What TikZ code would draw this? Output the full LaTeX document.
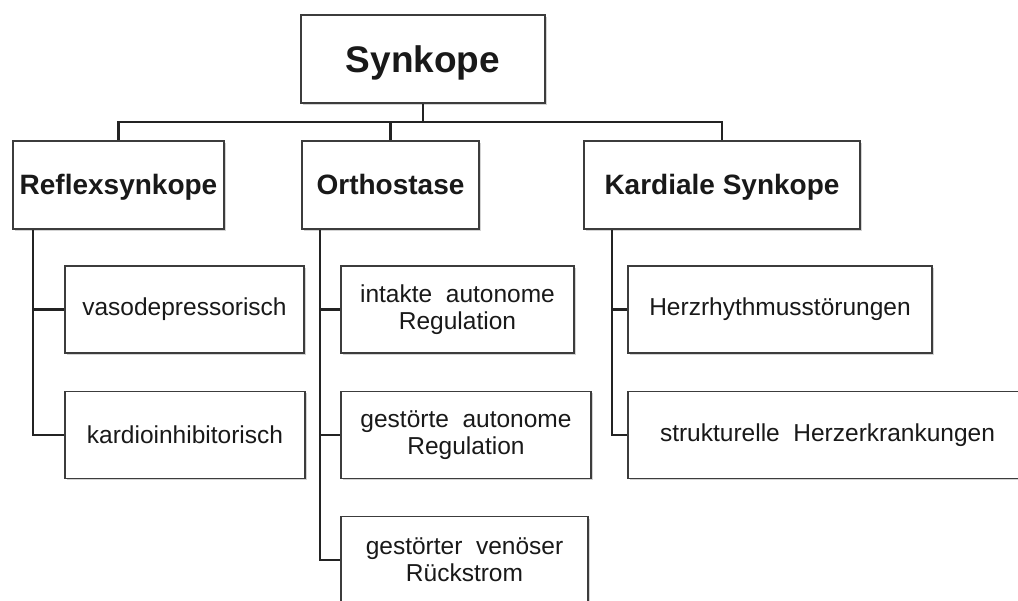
\documentclass[tikz,border=0pt]{standalone}
\usepackage{fontspec}
\setmainfont{Liberation Sans}
\usetikzlibrary{shadows, positioning}
\definecolor{my_linegray}{RGB}{35, 35, 35}
\definecolor{my_boxgray}{RGB}{60, 60, 60}
\definecolor{my_textgray}{RGB}{25, 25, 25}
\tikzset {
  box/.style = {draw=my_boxgray, line width=1.8pt, fill=white, rectangle, text=my_textgray,
                inner sep=2pt, minimum height=88pt, align=center,
                drop shadow={shadow xshift=1.5pt, shadow yshift=-2pt, opacity=0.35}},
  topbox/.style = {box, font=\fontsize{37}{40}\selectfont\bfseries, text height=26.5pt, text depth=0pt},
  groupbox/.style = {box, font=\fontsize{28}{32}\selectfont\bfseries, text height=20pt, text depth=0pt},
  leafbox/.style = {box, minimum height=87pt, font=\fontsize{24.5}{27}\selectfont},
  line/.style = {draw=my_linegray, line width=2.8pt}
}

\begin{document}
\begin{tikzpicture}[x=1pt, y=-1pt]
    \useasboundingbox (0,0) rectangle (1018,601);
    \clip (0,0) rectangle (1018,601);

    % upper levels
    \node[topbox, minimum width=244pt, name=top] (top) at (423,59) {Synkope};
    \node[groupbox, minimum width=211pt, name=refl] (refl) at (118.5,185) {Reflexsynkope};
    \node[groupbox, minimum width=177pt, name=orth] (orth) at (390.5,185) {Orthostase};
    \node[groupbox, minimum width=276pt, name=kard] (kard) at (722,185) {Kardiale Synkope};
    \coordinate (bar) at (423,122);

    % leaves
    \node[leafbox, minimum width=239pt, name=vaso] (vaso) at (184.5,309.5) {vasodepressorisch};
    \node[leafbox, minimum width=240pt, name=kardio] (kardio) at (185,435) {kardioinhibitorisch};

    \node[leafbox, minimum width=233pt, name=intakt] (intakt) at (457.5,309.5) {intakte\ \ autonome\\Regulation};
    \node[leafbox, minimum width=250pt, name=gestoert] (gestoert) at (466,435) {gestörte\ \ autonome\\Regulation};
    \node[leafbox, minimum width=247pt, name=venoes] (venoes) at (464.5,560) {gestörter\ \ venöser\\Rückstrom};

    \node[leafbox, minimum width=304pt, name=rhythmus] (rhythmus) at (780,309.5) {Herzrhythmusstörungen};
    \node[leafbox, minimum width=399pt, name=struktur] (struktur) at (827.5,435) {strukturelle\ \ Herzerkrankungen};

    \draw[line] (top.south) -- (bar);
    \draw[line] (refl.north) |- (bar) -| (kard.north);
    \draw[line] (orth.north) -- (orth.north |- bar);

    \draw[line] ([xshift=-85.5pt]refl.south) |- (kardio.west);
    \draw[line] ([xshift=-85.5pt]refl.south |- vaso.west) -- (vaso.west);
    \draw[line] ([xshift=-70.5pt]orth.south) |- (venoes.west);
    \draw[line] ([xshift=-70.5pt]orth.south |- intakt.west) -- (intakt.west);
    \draw[line] ([xshift=-70.5pt]orth.south |- gestoert.west) -- (gestoert.west);
    \draw[line] ([xshift=-110pt]kard.south) |- (struktur.west);
    \draw[line] ([xshift=-110pt]kard.south |- rhythmus.west) -- (rhythmus.west);

  \end{tikzpicture}
\end{document}
